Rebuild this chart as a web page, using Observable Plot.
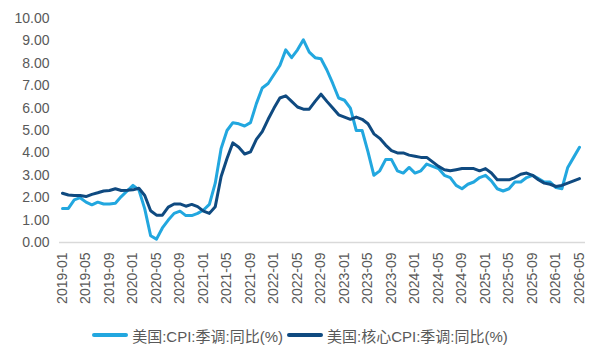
<!DOCTYPE html>
<html>
<head>
<meta charset="utf-8">
<script src="https://cdn.jsdelivr.net/npm/d3@7"></script>
<script src="https://cdn.jsdelivr.net/npm/@observablehq/plot@0.6"></script>
<style>
  html, body { margin: 0; padding: 0; background: #fff; }
  #chart { width: 600px; height: 320px; }
  .legend {
    display: flex; justify-content: center; align-items: center;
    height: 20px; margin-top: 5px;
    font-family: "Liberation Sans", Arial, "Noto Sans CJK SC", sans-serif;
    font-size: 15px; color: #595959; white-space: nowrap;
  }
  .legend .item { display: flex; align-items: center; }
  .legend .swatch { width: 36px; height: 4px; border-radius: 2px; margin-right: 4px; }
  .legend .item + .item { margin-left: 4px; }
</style>
</head>
<body>
<div id="chart"></div>
<div class="legend" id="legend"></div>
<script>
// Monthly categories, 2019-01 .. 2026-05
const months = d3.utcMonth.range(new Date(Date.UTC(2019, 0, 1)), new Date(Date.UTC(2026, 5, 1)))
  .map(d3.utcFormat("%Y-%m"));

// Series names and colours
const seriesNames = ["美国:CPI:季调:同比(%)", "美国:核心CPI:季调:同比(%)"];
const seriesColors = ["#22a7df", "#0f4a80"];

// 美国:CPI:季调:同比(%)
const cpi = [
  1.52, 1.52, 1.90, 2.00, 1.80, 1.68, 1.80, 1.72, 1.72, 1.75, 2.05, 2.30,
  2.55, 2.35, 1.50, 0.30, 0.15, 0.65, 1.00, 1.30, 1.40, 1.20, 1.20, 1.30,
  1.45, 1.70, 2.65, 4.20, 5.00, 5.35, 5.30, 5.20, 5.35, 6.20, 6.90, 7.10,
  7.50, 7.90, 8.60, 8.25, 8.60, 9.05, 8.50, 8.25, 8.20, 7.70, 7.10, 6.45,
  6.35, 6.00, 5.00, 5.00, 4.05, 3.00, 3.20, 3.70, 3.70, 3.20, 3.10, 3.35,
  3.10, 3.20, 3.50, 3.40, 3.30, 3.00, 2.90, 2.55, 2.40, 2.60, 2.70, 2.90,
  3.00, 2.75, 2.40, 2.30, 2.40, 2.70, 2.70, 2.90, 3.00, 2.85, 2.70, 2.70,
  2.45, 2.40, 3.35, 3.80, 4.25
];

// 美国:核心CPI:季调:同比(%)
const core = [
  2.20, 2.12, 2.10, 2.10, 2.05, 2.15, 2.22, 2.30, 2.32, 2.40, 2.32, 2.33,
  2.35, 2.42, 2.10, 1.42, 1.22, 1.22, 1.58, 1.72, 1.72, 1.62, 1.70, 1.60,
  1.40, 1.30, 1.60, 2.95, 3.75, 4.45, 4.25, 3.95, 4.05, 4.60, 4.95, 5.50,
  6.00, 6.45, 6.55, 6.30, 6.05, 5.95, 5.95, 6.30, 6.62, 6.30, 6.00, 5.70,
  5.60, 5.50, 5.60, 5.50, 5.30, 4.85, 4.65, 4.35, 4.10, 4.00, 4.00, 3.90,
  3.85, 3.80, 3.80, 3.60, 3.40, 3.25, 3.20, 3.25, 3.30, 3.30, 3.30, 3.20,
  3.30, 3.10, 2.80, 2.80, 2.80, 2.90, 3.05, 3.10, 3.00, 2.80, 2.65, 2.60,
  2.50, 2.55, 2.65, 2.75, 2.85
];

// Axis ticks: every fourth month, and 0..10 on the value axis
const xTicks = months.filter((d, i) => i % 4 === 0);
const yTicks = d3.range(0, 11, 1);

const rows = [
  ...months.map((m, i) => ({month: m, value: cpi[i], series: seriesNames[0]})),
  ...months.map((m, i) => ({month: m, value: core[i], series: seriesNames[1]}))
];

const chart = Plot.plot({
  width: 600,
  height: 320,
  marginTop: 18,
  marginBottom: 78,
  marginLeft: 59,
  marginRight: 15,
  style: {
    fontFamily: "'Liberation Sans', Arial, sans-serif",
    fontSize: "14px",
    color: "#595959",
    background: "#fff"
  },
  x: {type: "point", domain: months, padding: 0, insetLeft: 3, insetRight: 6, label: null},
  y: {domain: [0, 10], label: null},
  color: {domain: seriesNames, range: seriesColors},
  marks: [
    Plot.ruleY([0], {stroke: "#d9d9d9", strokeWidth: 1.5}),
    Plot.axisY({ticks: yTicks, tickFormat: d3.format(".2f"), tickSize: 0, tickPadding: 10, label: null}),
    Plot.axisX({ticks: xTicks, tickRotate: -90, tickSize: 0, tickPadding: 10, label: null}),
    Plot.line(rows, {
      x: "month", y: "value", z: "series", stroke: "series",
      strokeWidth: 3, strokeLinejoin: "round", strokeLinecap: "round"
    })
  ]
});
document.getElementById("chart").append(chart);

// Legend below the plot
const legend = d3.select("#legend");
seriesNames.forEach((name, i) => {
  const item = legend.append("div").attr("class", "item");
  item.append("div").attr("class", "swatch").style("background", seriesColors[i]);
  item.append("span").text(name);
});
</script>
</body>
</html>
